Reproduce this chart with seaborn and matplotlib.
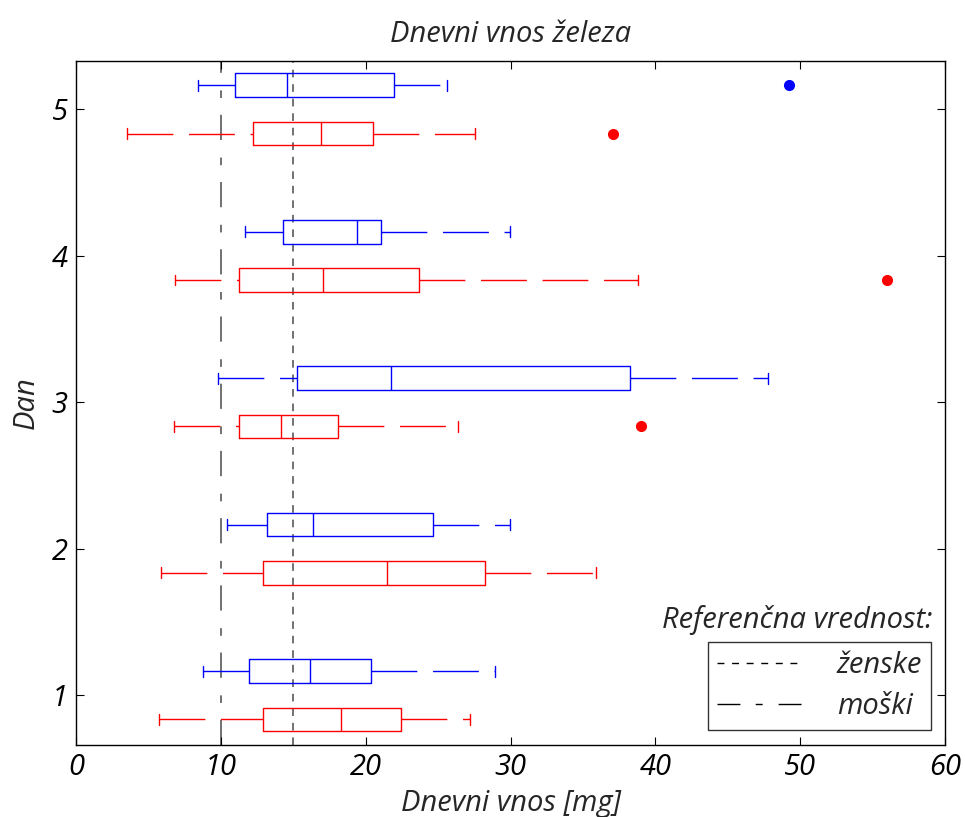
import numpy as np
import pandas as pd
import matplotlib
matplotlib.use("Agg")
import matplotlib.pyplot as plt
from matplotlib.lines import Line2D
import seaborn as sns

# ---- data ----
days = [1, 2, 3, 4, 5]
# men (blue, upper box of each day)
m_low = [8.79, 10.45, 9.78, 11.69, 8.39]
m_q1 = [11.97, 13.21, 15.28, 14.31, 11.0]
m_med = [16.13, 16.39, 21.78, 19.43, 14.56]
m_q3 = [20.39, 24.68, 38.22, 21.08, 21.93]
m_high = [28.96, 29.95, 47.77, 29.95, 25.64]
m_out = [[], [], [], [], [49.2]]
# women (red, lower box of each day)
f_low = [5.75, 5.89, 6.74, 6.85, 3.54]
f_q1 = [12.93, 12.93, 11.27, 11.27, 12.24]
f_med = [18.32, 21.5, 14.18, 17.08, 16.94]
f_q3 = [22.47, 28.27, 18.07, 23.71, 20.53]
f_high = [27.18, 35.89, 26.36, 38.77, 27.58]
f_out = [[], [], [39.0], [55.97], [37.06]]

ref_female = 15
ref_male = 10

title = "Dnevni vnos železa"
xlabel = "Dnevni vnos [mg]"
ylabel = "Dan"
legend_title = "Referenčna vrednost:"
legend_labels = ["ženske", "moški"]

# ---- style ----
sns.set_style("white")
plt.rcParams["font.family"] = ["Open Sans", "DejaVu Sans"]
plt.rcParams["font.style"] = "italic"
FS = 21

fig = plt.figure(figsize=(9.65, 8.17), dpi=100)
ax = fig.add_axes([0.0788, 0.0881, 0.9005, 0.8372])

offset = 0.165
box_w = 0.162
cap_w = 0.075
whisk_dash = (0, (33, 11.3))


def stats_of(low, q1, med, q3, high, out):
    return [dict(whislo=a, q1=b, med=c, q3=d, whishi=e, fliers=f)
            for a, b, c, d, e, f in zip(low, q1, med, q3, high, out)]


def draw(stats, pos, color):
    res = ax.bxp(stats, positions=pos, widths=box_w, capwidths=cap_w,
                 orientation="horizontal", patch_artist=False,
                 boxprops=dict(color=color, lw=1.0),
                 medianprops=dict(color=color, lw=1.0),
                 whiskerprops=dict(color=color, lw=1.0, linestyle=whisk_dash),
                 capprops=dict(color=color, lw=1.0),
                 flierprops=dict(marker="o", markerfacecolor=color,
                                 markeredgecolor=color, markersize=7,
                                 linestyle="none"),
                 manage_ticks=False)
    # lower whisker drawn from the cap towards the box
    for w in res["whiskers"][::2]:
        w.set_xdata(w.get_xdata()[::-1])
        w.set_ydata(w.get_ydata()[::-1])
    return res


draw(stats_of(m_low, m_q1, m_med, m_q3, m_high, m_out),
     [d + offset for d in days], "#0000ff")
draw(stats_of(f_low, f_q1, f_med, f_q3, f_high, f_out),
     [d - offset for d in days], "#ff0000")

ls_f = (0, (5, 4.5))
ls_m = (0, (16.5, 11, 5, 11.5))
ax.axvline(ref_female, color="#4a4a4a", lw=1.1, linestyle=ls_f, zorder=0)
ax.axvline(ref_male, color="#4a4a4a", lw=1.1, linestyle=ls_m, zorder=0)

ax.set_xlim(0, 60)
ax.set_ylim(0.66, 5.33)
ax.set_xticks(np.arange(0, 61, 10))
ax.set_yticks(days)
ax.set_yticklabels([str(d) for d in days])
ax.tick_params(axis="both", which="both", direction="in", length=6,
               width=0.8, labelsize=FS, top=True, right=True,
               bottom=True, left=True, colors="black", pad=6)
for s in ax.spines.values():
    s.set_visible(True)
    s.set_color("black")
    s.set_linewidth(1.0)

ax.set_title(title, fontsize=FS, style="italic", pad=14)
ax.set_xlabel(xlabel, fontsize=FS, style="italic", labelpad=5)
ax.set_ylabel(ylabel, fontsize=FS, style="italic", labelpad=8)

handles = [Line2D([], [], color="black", lw=1.0, linestyle=(0, (5, 5.5))),
           Line2D([], [], color="black", lw=1.0, linestyle=ls_m)]
leg = ax.legend(handles, legend_labels, loc="lower right",
                bbox_to_anchor=(0.984, 0.022), frameon=True, fancybox=False,
                fontsize=FS, handlelength=2.9, handletextpad=1.2,
                borderpad=0.31, labelspacing=0.4, borderaxespad=0)
leg.get_frame().set_edgecolor("black")
leg.get_frame().set_linewidth(1.0)
ax.text(0.985, 0.183, legend_title, transform=ax.transAxes, ha="right",
        va="center", fontsize=FS, style="italic")

fig.savefig("out.png", dpi=100)
